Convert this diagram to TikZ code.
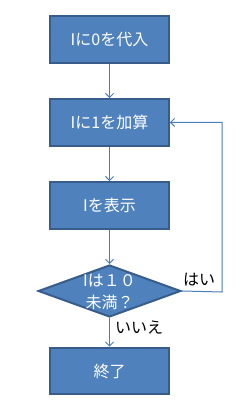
\documentclass[tikz,border=0pt]{standalone}
\usepackage{fontspec}
\setmainfont{Noto Sans CJK JP}
\usetikzlibrary{arrows.meta,positioning,shapes.geometric}
\definecolor{boxfill}{RGB}{79,129,189}
\definecolor{boxdraw}{RGB}{56,93,138}
\definecolor{arccolor}{RGB}{74,126,187}

\begin{document}
\begin{tikzpicture}[
  x=0.75pt,y=-0.75pt,
  >={Straight Barb[length=3pt,width=6pt]},
  proc/.style={rectangle,draw=boxdraw,fill=boxfill,line width=1.5pt,
               minimum width=89pt,minimum height=35pt,text=white,
               font=\fontsize{12}{14}\selectfont,inner sep=2pt},
  cond/.style={diamond,draw=boxdraw,fill=boxfill,line width=1.5pt,
               minimum width=107pt,minimum height=39pt,inner sep=0pt},
  condtxt/.style={text=white,align=center,font=\fontsize{12}{16}\selectfont},
  arc/.style={->,arccolor,line width=0.75pt},
  lbl/.style={font=\fontsize{12}{14}\selectfont,inner sep=1pt}
]
\useasboundingbox (0,0) rectangle (246,413);
\node[proc] (B1) at (109.5,39.5)  {Iに0を代入};
\node[proc] (B2) at (109.5,122.5) {Iに1を加算};
\node[proc] (B3) at (109.5,205.5) {Iを表示};
\node[cond] (Q)  at (109.5,291)   {};
\node[condtxt] (QT) at (109.5,292) {Iは１０\\未満？};
\node[proc] (B4) at (109.5,371)   {終了};
\coordinate (R) at (222,292);
\draw[arc] (B1) -- (B2);
\draw[arc] (B2) -- (B3);
\draw[arc] (B3) -- (Q);
\draw[arc] (Q)  -- (B4);
\draw[arc] (Q.east) -- (R) |- (B2.east);
\node[lbl] (yes) at (199,280) {はい};
\node[lbl] (no)  at (139,328) {いいえ};
\end{tikzpicture}
\end{document}
